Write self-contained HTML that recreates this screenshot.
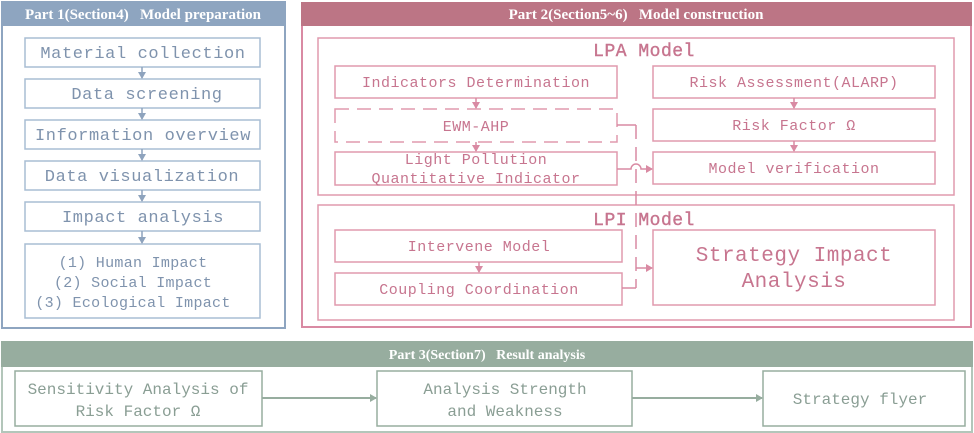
<!DOCTYPE html>
<html><head><meta charset="utf-8"><style>
html,body{margin:0;padding:0;background:#fff;}
svg{display:block;}
.m{font-family:"Liberation Mono","DejaVu Sans Mono",monospace;}
.s{font-family:"Liberation Serif",serif;font-weight:bold;}
</style></head><body>
<svg width="974" height="433" viewBox="0 0 974 433" xmlns="http://www.w3.org/2000/svg">
<defs>
<marker id="ab" markerWidth="8" markerHeight="8" refX="6" refY="4" orient="auto" markerUnits="userSpaceOnUse"><path d="M0,0 L7,4 L0,8 Z" fill="#8ea3bd"/></marker>
<marker id="ap" markerWidth="8" markerHeight="8" refX="6" refY="4" orient="auto" markerUnits="userSpaceOnUse"><path d="M0,0 L7,4 L0,8 Z" fill="#d98aa3"/></marker>
<marker id="ag" markerWidth="8" markerHeight="8" refX="6" refY="4" orient="auto" markerUnits="userSpaceOnUse"><path d="M0,0 L7,4 L0,8 Z" fill="#97ad9f"/></marker>
</defs>

<!-- Part 1 -->
<g stroke="#8ea5c0" fill="none" stroke-width="2">
<rect x="2" y="2" width="283" height="326"/>
</g>
<rect x="2" y="2" width="283" height="24" fill="#8ea5c0"/>
<text x="143" y="19" text-anchor="middle" class="s" font-size="15" fill="#fff">Part 1(Section4)&#160;&#160;&#160;Model preparation</text>
<g stroke="#a9bdd4" fill="none" stroke-width="1.5">
<rect x="25" y="38" width="235" height="29"/>
<rect x="25" y="79" width="235" height="29"/>
<rect x="25" y="120" width="235" height="29"/>
<rect x="25" y="161" width="235" height="29"/>
<rect x="25" y="202" width="235" height="29"/>
<rect x="25" y="244" width="235" height="74"/>
</g>
<g stroke="#8ea3bd" stroke-width="1.5" marker-end="url(#ab)">
<line x1="142" y1="67" x2="142" y2="78"/>
<line x1="142" y1="108" x2="142" y2="119"/>
<line x1="142" y1="149" x2="142" y2="160"/>
<line x1="142" y1="190" x2="142" y2="201"/>
<line x1="142" y1="231" x2="142" y2="243"/>
</g>
<g class="m" fill="#7f93ad" font-size="17" text-anchor="middle" letter-spacing="0.6">
<text x="143" y="58">Material collection</text>
<text x="147" y="99">Data screening</text>
<text x="143" y="140">Information overview</text>
<text x="142" y="181">Data visualization</text>
<text x="143" y="222">Impact analysis</text>
<text x="133" y="267" font-size="15" letter-spacing="0.3">(1) Human Impact</text>
<text x="133" y="287" font-size="15" letter-spacing="0.3">(2) Social Impact</text>
<text x="133" y="307" font-size="15" letter-spacing="0.3">(3) Ecological Impact</text>
</g>

<!-- Part 2 -->
<rect x="302" y="3" width="669" height="324" fill="none" stroke="#d98aa3" stroke-width="2"/>
<rect x="301" y="2" width="671" height="24" fill="#bc7585"/>
<text x="636" y="19" text-anchor="middle" class="s" font-size="15" fill="#fff">Part 2(Section5~6)&#160;&#160;&#160;Model construction</text>
<g stroke="#e09aae" fill="none" stroke-width="1.5">
<rect x="318" y="38" width="636" height="157"/>
<rect x="318" y="205" width="636" height="115"/>
<rect x="335" y="66" width="282" height="32"/>
<rect x="335" y="109" width="282" height="33" stroke-dasharray="14,8"/>
<rect x="335" y="152" width="282" height="33"/>
<rect x="653" y="66" width="282" height="32"/>
<rect x="653" y="109" width="282" height="32"/>
<rect x="653" y="152" width="282" height="32"/>
<rect x="335" y="230" width="287" height="32"/>
<rect x="335" y="273" width="287" height="32"/>
<rect x="653" y="230" width="282" height="75"/>
</g>
<g stroke="#d98aa3" stroke-width="1.5" fill="none">
<line x1="476" y1="98" x2="476" y2="108" marker-end="url(#ap)"/>
<line x1="476" y1="142" x2="476" y2="151" marker-end="url(#ap)"/>
<line x1="794" y1="98" x2="794" y2="108" marker-end="url(#ap)"/>
<line x1="794" y1="141" x2="794" y2="151" marker-end="url(#ap)"/>
<line x1="479" y1="262" x2="479" y2="272" marker-end="url(#ap)"/>
<polyline points="617,125 636,125"/>
<line x1="636" y1="125" x2="636" y2="288" stroke-dasharray="14,8"/>
<polyline points="622,288 636,288"/>
<path d="M617,169 L631,169 A5,5 0 0 1 641,169 L652,169" marker-end="url(#ap)"/>
<line x1="636" y1="268" x2="652" y2="268" marker-end="url(#ap)"/>
</g>
<g class="m" fill="#c7758f" text-anchor="middle" letter-spacing="0.5">
<text x="644" y="56" font-size="18" stroke="#c7758f" stroke-width="0.4">LPA Model</text>
<text x="644" y="225" font-size="18" stroke="#c7758f" stroke-width="0.4">LPI Model</text>
<text x="476" y="87" font-size="15">Indicators Determination</text>
<text x="476" y="131" font-size="15">EWM-AHP</text>
<text x="476" y="164" font-size="15">Light Pollution</text>
<text x="476" y="183" font-size="15">Quantitative Indicator</text>
<text x="794" y="87" font-size="15">Risk Assessment(ALARP)</text>
<text x="794" y="130" font-size="15">Risk Factor Ω</text>
<text x="794" y="173" font-size="15">Model verification</text>
<text x="479" y="251" font-size="15">Intervene Model</text>
<text x="479" y="294" font-size="15">Coupling Coordination</text>
<text x="794" y="261" font-size="21">Strategy Impact</text>
<text x="794" y="287" font-size="21">Analysis</text>
</g>

<!-- Part 3 -->
<rect x="2" y="342" width="970" height="90" fill="none" stroke="#b3c6ba" stroke-width="2"/>
<rect x="1" y="341" width="972" height="26" fill="#97ad9f"/>
<text x="487" y="359" text-anchor="middle" class="s" font-size="14" fill="#fff">Part 3(Section7)&#160;&#160;&#160;Result analysis</text>
<g stroke="#97ad9f" fill="none" stroke-width="1.5">
<rect x="15" y="371" width="247" height="55"/>
<rect x="377" y="371" width="255" height="55"/>
<rect x="763" y="371" width="202" height="55"/>
<line x1="262" y1="398" x2="376" y2="398" stroke-width="2" marker-end="url(#ag)"/>
<line x1="632" y1="398" x2="762" y2="398" stroke-width="2" marker-end="url(#ag)"/>
</g>
<g class="m" fill="#8a9e94" font-size="16" text-anchor="middle">
<text x="138" y="394">Sensitivity Analysis of</text>
<text x="138" y="416">Risk Factor Ω</text>
<text x="505" y="394">Analysis Strength</text>
<text x="505" y="416">and Weakness</text>
<text x="860" y="404">Strategy flyer</text>
</g>
</svg>
</body></html>
